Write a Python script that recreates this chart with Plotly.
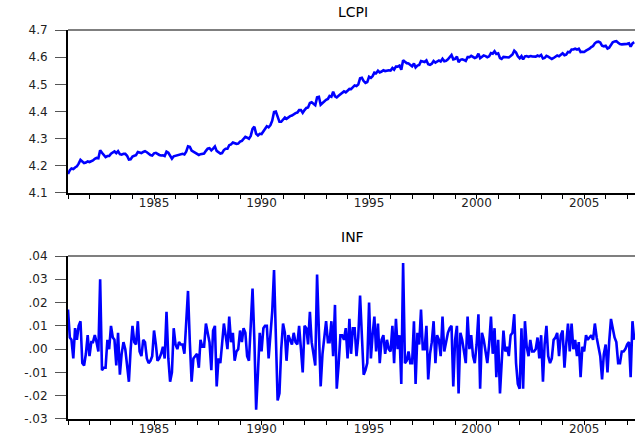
import pandas as pd
import plotly.graph_objects as go
from plotly.subplots import make_subplots

lcpi = [
    4.170, 4.184, 4.190, 4.188, 4.194, 4.198, 4.208, 4.222, 4.216, 4.210, 4.212, 4.216,
    4.214, 4.217, 4.220, 4.226, 4.229, 4.228, 4.257, 4.248, 4.240, 4.232, 4.236, 4.236,
    4.245, 4.249, 4.253, 4.247, 4.254, 4.243, 4.241, 4.244, 4.244, 4.237, 4.223, 4.224,
    4.234, 4.237, 4.239, 4.251, 4.250, 4.247, 4.251, 4.254, 4.250, 4.244, 4.240, 4.238,
    4.246, 4.248, 4.243, 4.240, 4.238, 4.239, 4.236, 4.252, 4.248, 4.234, 4.226, 4.235,
    4.237, 4.237, 4.240, 4.242, 4.244, 4.242, 4.252, 4.272, 4.270, 4.256, 4.252, 4.248,
    4.246, 4.240, 4.243, 4.244, 4.245, 4.255, 4.263, 4.265, 4.257, 4.263, 4.271, 4.255,
    4.250, 4.245, 4.247, 4.258, 4.263, 4.263, 4.276, 4.279, 4.286, 4.282, 4.281, 4.282,
    4.289, 4.292, 4.300, 4.307, 4.304, 4.300, 4.310, 4.336, 4.344, 4.318, 4.312, 4.318,
    4.317, 4.326, 4.336, 4.346, 4.342, 4.350, 4.366, 4.398, 4.400, 4.380, 4.362, 4.362,
    4.372, 4.378, 4.373, 4.379, 4.383, 4.385, 4.391, 4.394, 4.396, 4.405, 4.405, 4.395,
    4.405, 4.413, 4.415, 4.431, 4.434, 4.430, 4.423, 4.452, 4.454, 4.425, 4.432, 4.440,
    4.443, 4.446, 4.457, 4.454, 4.473, 4.456, 4.452, 4.458, 4.463, 4.467, 4.474, 4.470,
    4.476, 4.483, 4.482, 4.490, 4.496, 4.494, 4.499, 4.522, 4.524, 4.512, 4.505, 4.508,
    4.528, 4.524, 4.530, 4.543, 4.541, 4.550, 4.544, 4.547, 4.552, 4.549, 4.552, 4.552,
    4.551, 4.560, 4.554, 4.565, 4.565, 4.569, 4.554, 4.589, 4.583, 4.578, 4.577, 4.571,
    4.566, 4.577, 4.562, 4.569, 4.571, 4.586, 4.585, 4.582, 4.588, 4.574, 4.572, 4.576,
    4.586, 4.580, 4.584, 4.588, 4.584, 4.594, 4.585, 4.587, 4.592, 4.600, 4.608, 4.592,
    4.594, 4.602, 4.582, 4.590, 4.592, 4.590, 4.586, 4.600, 4.600, 4.605, 4.600, 4.597,
    4.600, 4.613, 4.596, 4.603, 4.606, 4.604, 4.600, 4.603, 4.615, 4.613, 4.622, 4.612,
    4.614, 4.597, 4.594, 4.601, 4.600, 4.601, 4.599, 4.604, 4.610, 4.624, 4.617, 4.603,
    4.596, 4.604, 4.592, 4.603, 4.604, 4.601, 4.604, 4.603, 4.602, 4.602, 4.606, 4.603,
    4.608, 4.595, 4.597, 4.605, 4.602, 4.596, 4.593, 4.597, 4.601, 4.606, 4.603, 4.608,
    4.614, 4.607, 4.609, 4.619, 4.618, 4.628, 4.628, 4.631, 4.628, 4.631, 4.619, 4.620,
    4.619, 4.624, 4.627, 4.631, 4.637, 4.641, 4.651, 4.656, 4.657, 4.654, 4.642, 4.640,
    4.642, 4.632, 4.635, 4.648, 4.655, 4.658, 4.659, 4.653, 4.648, 4.647, 4.647, 4.647,
    4.649, 4.651, 4.639, 4.651, 4.655,
]

inf = [
    0.017, 0.005, 0.004, -0.004, 0.009, 0.004, 0.010, 0.012, -0.006, -0.007, -0.002, 0.006,
    -0.003, 0.003, 0.003, 0.006, 0.003, -0.001, 0.030, -0.009, -0.008, -0.008, 0.004, 0.000,
    0.010, 0.005, 0.004, -0.007, 0.007, -0.011, -0.002, 0.003, 0.000, -0.007, -0.014, 0.000,
    0.010, 0.003, 0.002, 0.012, -0.001, -0.003, 0.004, 0.003, -0.004, -0.006, -0.005, -0.003,
    0.008, 0.002, -0.005, -0.004, -0.002, 0.001, -0.004, 0.016, -0.004, -0.014, -0.010, 0.009,
    0.002, 0.000, 0.003, 0.002, 0.002, -0.002, 0.010, 0.025, 0.003, -0.014, -0.004, -0.003,
    -0.002, -0.008, 0.004, 0.001, 0.001, 0.011, 0.007, 0.003, -0.009, 0.008, 0.010, -0.016,
    -0.004, -0.006, 0.002, 0.011, 0.006, 0.000, 0.014, 0.003, 0.007, -0.005, -0.001, 0.000,
    0.008, 0.003, 0.009, 0.007, -0.003, -0.005, 0.010, 0.026, 0.004, -0.026, -0.010, 0.007,
    -0.001, 0.009, 0.010, 0.010, -0.004, 0.008, 0.016, 0.034, 0.005, -0.022, -0.019, 0.000,
    0.011, 0.007, -0.005, 0.006, 0.004, 0.002, 0.007, 0.003, 0.002, 0.010, 0.000, -0.010,
    0.010, 0.009, 0.002, 0.016, 0.003, -0.003, -0.007, 0.032, 0.005, -0.016, -0.002, 0.004,
    0.012, 0.003, 0.003, 0.012, -0.003, 0.019, -0.017, -0.007, 0.006, 0.006, 0.004, 0.009,
    -0.004, 0.013, -0.002, 0.009, 0.009, -0.003, 0.005, 0.023, 0.003, -0.011, -0.009, -0.006,
    0.020, -0.004, 0.006, 0.014, -0.001, 0.011, -0.006, 0.004, 0.006, -0.002, 0.004, 0.000,
    -0.001, 0.010, -0.006, 0.013, 0.000, 0.006, -0.015, 0.037, -0.006, -0.005, -0.001, -0.006,
    -0.006, 0.012, -0.015, 0.007, 0.002, 0.017, 0.000, 0.000, 0.010, -0.013, -0.002, 0.003,
    0.012, -0.006, 0.006, 0.004, -0.003, 0.014, -0.001, 0.003, 0.007, 0.009, 0.010, -0.016,
    0.004, 0.010, -0.019, 0.007, 0.004, -0.001, -0.006, 0.014, 0.000, 0.006, -0.003, -0.006,
    0.002, 0.015, -0.017, 0.007, 0.004, -0.001, -0.006, 0.002, 0.014, -0.002, 0.009, -0.012,
    0.004, -0.019, -0.004, 0.008, -0.001, 0.001, -0.003, 0.006, 0.007, 0.015, -0.006, -0.015,
    -0.017, 0.009, -0.017, 0.012, 0.001, -0.003, 0.004, -0.001, -0.001, 0.000, 0.005, -0.004,
    0.006, -0.014, 0.002, 0.010, -0.003, -0.006, -0.004, 0.004, 0.005, 0.007, -0.003, 0.006,
    0.008, -0.008, 0.002, 0.011, -0.001, 0.011, 0.000, 0.004, -0.003, 0.003, -0.012, 0.001,
    -0.001, 0.006, 0.004, 0.005, 0.006, 0.004, 0.011, 0.005, 0.000, -0.003, -0.013, -0.002,
    0.002, -0.010, 0.003, 0.013, 0.009, 0.005, 0.003, -0.006, -0.006, -0.001, -0.001, 0.000,
    0.002, 0.003, -0.012, 0.012, 0.004,
]

dates = pd.date_range("1981-01-01", periods=len(lcpi), freq="MS")
year_ticks = [f"{y}-01-01" for y in range(1981, 2008)]
year_labels = [str(y) if y % 5 == 0 else "" for y in range(1981, 2008)]
lcpi_ticks = [4.1, 4.2, 4.3, 4.4, 4.5, 4.6, 4.7]
lcpi_labels = ["4.1", "4.2", "4.3", "4.4", "4.5", "4.6", "4.7"]
inf_ticks = [-0.03, -0.02, -0.01, 0.0, 0.01, 0.02, 0.03, 0.04]
inf_labels = ["-.03", "-.02", "-.01", ".00", ".01", ".02", ".03", ".04"]
titles = ["LCPI", "INF"]

BLUE = "#0000FF"
FONT = "DejaVu Sans"

fig = make_subplots(rows=2, cols=1, vertical_spacing=0.16)
fig.add_trace(go.Scatter(x=dates, y=lcpi, mode="lines",
                         line=dict(color=BLUE, width=2.6)), row=1, col=1)
fig.add_trace(go.Scatter(x=dates, y=inf, mode="lines",
                         line=dict(color=BLUE, width=2.6)), row=2, col=1)

xcommon = dict(
    type="date", range=["1981-01-01", "2007-05-14"],
    tickmode="array", tickvals=year_ticks, ticktext=year_labels,
    ticks="outside", ticklen=4, tickwidth=1, tickcolor="#000",
    showline=True, linecolor="#000", linewidth=1.5,
    showgrid=False, zeroline=False, automargin=False,
    ticklabelstandoff=-6,
    tickfont=dict(family=FONT, size=12, color="#222"),
)
ycommon = dict(
    ticks="outside", ticklen=11, tickwidth=1, tickcolor="#555",
    showline=True, linecolor="#000", linewidth=2,
    showgrid=False, zeroline=False, automargin=False,
    ticklabelstandoff=5,
    tickfont=dict(family=FONT, size=12, color="#222"),
)

top_dom = [0.581, 1.0]
bot_dom = [0.0, 0.419]
fig.update_layout(
    xaxis=dict(**xcommon, domain=[0, 1]),
    xaxis2=dict(**xcommon, domain=[0, 1]),
    yaxis=dict(**ycommon, domain=top_dom, range=[4.1, 4.7],
               tickmode="array", tickvals=lcpi_ticks, ticktext=lcpi_labels),
    yaxis2=dict(**ycommon, domain=bot_dom, range=[-0.03, 0.04],
                tickmode="array", tickvals=inf_ticks, ticktext=inf_labels),
)

# top borders of each panel
for yref in ["y domain", "y2 domain"]:
    xr = "x domain" if yref == "y domain" else "x2 domain"
    fig.add_shape(type="line", xref=xr, yref=yref, x0=0, x1=1, y0=1, y1=1,
                  line=dict(color="#555", width=1.5))

title_pos = [1.046, 0.468]
for t, yp in zip(titles, title_pos):
    fig.add_annotation(text=t, xref="paper", yref="paper", x=0.5026, y=yp,
                       xanchor="center", yanchor="middle", showarrow=False,
                       font=dict(family=FONT, size=14, color="#000"))

fig.update_layout(
    template="none",
    width=635, height=436,
    margin=dict(l=68, r=0, t=30, b=17, pad=0),
    showlegend=False,
    paper_bgcolor="white", plot_bgcolor="white",
)

fig.write_html("out.html")
